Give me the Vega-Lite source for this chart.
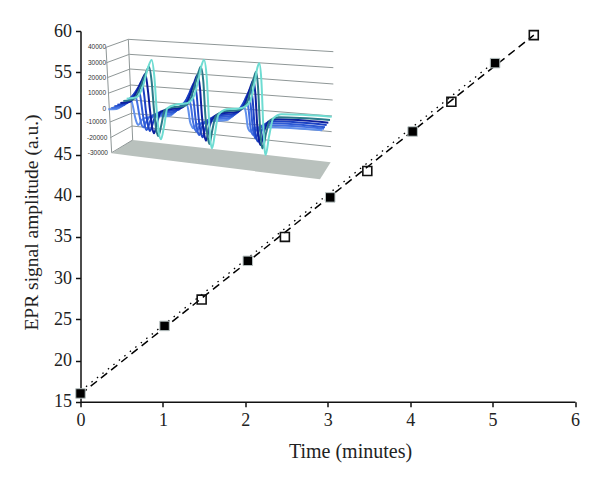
{"$schema":"https://vega.github.io/schema/vega-lite/v6.json","width":494.5,"height":370.7,"autosize":{"type":"none"},"padding":{"left":80.5,"top":31,"right":25,"bottom":80.3},"background":"white","config":{"view":{"stroke":null}},"resolve":{"scale":{"x":"independent","y":"independent"}},
"datasets":{
"points":[{"t":0,"a":16,"k":"filled"},{"t":1.02,"a":24.2,"k":"filled"},{"t":2.03,"a":32.1,"k":"filled"},{"t":3.03,"a":39.8,"k":"filled"},{"t":4.03,"a":47.8,"k":"filled"},{"t":5.03,"a":56.1,"k":"filled"},{"t":1.47,"a":27.4,"k":"open"},{"t":2.48,"a":35,"k":"open"},{"t":3.48,"a":43,"k":"open"},{"t":4.5,"a":51.4,"k":"open"},{"t":5.5,"a":59.5,"k":"open"}],
"fitDash":[{"t":0,"a":15.9},{"t":5.5,"a":59.5}],
"fitDot":[{"t":0,"a":16.3},{"t":5.03,"a":56.3}],
"grid":[{"g":1,"u":48,"v":82},{"g":1,"u":115,"v":58},{"g":1,"u":730,"v":95},{"g":2,"u":50,"v":128},{"g":2,"u":118,"v":103},{"g":2,"u":730,"v":143},{"g":3,"u":52,"v":173},{"g":3,"u":120,"v":147},{"g":3,"u":730,"v":192},{"g":4,"u":54,"v":220},{"g":4,"u":122,"v":195},{"g":4,"u":728,"v":240},{"g":5,"u":56,"v":267},{"g":5,"u":123,"v":240},{"g":5,"u":726,"v":288},{"g":6,"u":60,"v":306},{"g":6,"u":124,"v":280},{"g":6,"u":725,"v":335},{"g":7,"u":61,"v":353},{"g":7,"u":126,"v":318},{"g":7,"u":723,"v":380},{"g":8,"u":65,"v":398},{"g":8,"u":128,"v":360},{"g":9,"u":48,"v":82},{"g":9,"u":65,"v":398},{"g":10,"u":115,"v":58},{"g":10,"u":128,"v":360}],
"floor":[{"u":65,"v":400,"v2":400},{"u":128,"v":360,"v2":408},{"u":690,"v":423,"v2":478},{"u":722,"v":427,"v2":427}],
"labels":[{"u":48,"v":82,"l":"40000"},{"u":48,"v":128,"l":"30000"},{"u":48,"v":173,"l":"20000"},{"u":48,"v":220,"l":"10000"},{"u":48,"v":267,"l":"0"},{"u":50,"v":306,"l":"-10000"},{"u":52,"v":353,"l":"-20000"},{"u":54,"v":398,"l":"-30000"}],
"curves":[
{"s":"g","u":55,"v":268},{"s":"g","u":80,"v":267},{"s":"g","u":100,"v":252},{"s":"g","u":116,"v":243},{"s":"g","u":122,"v":238},{"s":"g","u":129,"v":260},{"s":"g","u":135,"v":290},{"s":"g","u":141,"v":310},{"s":"g","u":145,"v":315},{"s":"g","u":155,"v":300},{"s":"g","u":168,"v":293},{"s":"g","u":195,"v":290},{"s":"g","u":238,"v":288},{"s":"g","u":260,"v":270},{"s":"g","u":276,"v":258},{"s":"g","u":284,"v":253},{"s":"g","u":288,"v":250},{"s":"g","u":295,"v":270},{"s":"g","u":300,"v":305},{"s":"g","u":306,"v":320},{"s":"g","u":310,"v":325},{"s":"g","u":320,"v":313},{"s":"g","u":332,"v":310},{"s":"g","u":362,"v":304},{"s":"g","u":410,"v":300},{"s":"g","u":438,"v":278},{"s":"g","u":452,"v":268},{"s":"g","u":459,"v":264},{"s":"g","u":463,"v":262},{"s":"g","u":468,"v":280},{"s":"g","u":473,"v":320},{"s":"g","u":478,"v":332},{"s":"g","u":482,"v":335},{"s":"g","u":492,"v":324},{"s":"g","u":505,"v":322},{"s":"g","u":530,"v":322},{"s":"g","u":697,"v":331},
{"s":"f","u":64,"v":264},{"s":"f","u":90,"v":262},{"s":"f","u":110,"v":245},{"s":"f","u":127,"v":233},{"s":"f","u":135,"v":225},{"s":"f","u":142,"v":250},{"s":"f","u":148,"v":285},{"s":"f","u":155,"v":315},{"s":"f","u":160,"v":322},{"s":"f","u":170,"v":303},{"s":"f","u":180,"v":290},{"s":"f","u":205,"v":286},{"s":"f","u":245,"v":282},{"s":"f","u":268,"v":262},{"s":"f","u":284,"v":248},{"s":"f","u":292,"v":240},{"s":"f","u":296,"v":235},{"s":"f","u":303,"v":260},{"s":"f","u":309,"v":305},{"s":"f","u":315,"v":328},{"s":"f","u":320,"v":335},{"s":"f","u":329,"v":316},{"s":"f","u":340,"v":308},{"s":"f","u":369,"v":298},{"s":"f","u":418,"v":294},{"s":"f","u":444,"v":272},{"s":"f","u":458,"v":255},{"s":"f","u":466,"v":248},{"s":"f","u":470,"v":245},{"s":"f","u":476,"v":270},{"s":"f","u":481,"v":320},{"s":"f","u":486,"v":340},{"s":"f","u":490,"v":345},{"s":"f","u":500,"v":328},{"s":"f","u":512,"v":320},{"s":"f","u":537,"v":316},{"s":"f","u":702,"v":326},
{"s":"e","u":73,"v":259},{"s":"e","u":100,"v":256},{"s":"e","u":120,"v":235},{"s":"e","u":137,"v":217},{"s":"e","u":145,"v":205},{"s":"e","u":152,"v":235},{"s":"e","u":158,"v":280},{"s":"e","u":165,"v":320},{"s":"e","u":170,"v":330},{"s":"e","u":180,"v":305},{"s":"e","u":190,"v":285},{"s":"e","u":215,"v":280},{"s":"e","u":253,"v":276},{"s":"e","u":275,"v":256},{"s":"e","u":290,"v":238},{"s":"e","u":298,"v":222},{"s":"e","u":303,"v":215},{"s":"e","u":311,"v":245},{"s":"e","u":317,"v":300},{"s":"e","u":323,"v":335},{"s":"e","u":328,"v":345},{"s":"e","u":337,"v":318},{"s":"e","u":348,"v":304},{"s":"e","u":377,"v":292},{"s":"e","u":425,"v":288},{"s":"e","u":450,"v":266},{"s":"e","u":464,"v":242},{"s":"e","u":472,"v":230},{"s":"e","u":476,"v":225},{"s":"e","u":482,"v":255},{"s":"e","u":488,"v":320},{"s":"e","u":493,"v":348},{"s":"e","u":497,"v":355},{"s":"e","u":507,"v":330},{"s":"e","u":520,"v":315},{"s":"e","u":545,"v":310},{"s":"e","u":705,"v":322},
{"s":"d","u":82,"v":254},{"s":"d","u":110,"v":250},{"s":"d","u":130,"v":225},{"s":"d","u":146,"v":200},{"s":"d","u":155,"v":185},{"s":"d","u":162,"v":220},{"s":"d","u":168,"v":275},{"s":"d","u":175,"v":320},{"s":"d","u":180,"v":333},{"s":"d","u":190,"v":305},{"s":"d","u":200,"v":280},{"s":"d","u":225,"v":274},{"s":"d","u":262,"v":270},{"s":"d","u":283,"v":250},{"s":"d","u":298,"v":220},{"s":"d","u":307,"v":198},{"s":"d","u":312,"v":190},{"s":"d","u":320,"v":225},{"s":"d","u":326,"v":295},{"s":"d","u":333,"v":340},{"s":"d","u":338,"v":352},{"s":"d","u":347,"v":320},{"s":"d","u":358,"v":300},{"s":"d","u":385,"v":286},{"s":"d","u":432,"v":282},{"s":"d","u":456,"v":260},{"s":"d","u":470,"v":228},{"s":"d","u":478,"v":212},{"s":"d","u":482,"v":205},{"s":"d","u":488,"v":240},{"s":"d","u":494,"v":320},{"s":"d","u":500,"v":358},{"s":"d","u":505,"v":365},{"s":"d","u":515,"v":332},{"s":"d","u":528,"v":310},{"s":"d","u":553,"v":304},{"s":"d","u":710,"v":315},
{"s":"c","u":91,"v":249},{"s":"c","u":120,"v":245},{"s":"c","u":140,"v":215},{"s":"c","u":156,"v":180},{"s":"c","u":166,"v":162},{"s":"c","u":173,"v":205},{"s":"c","u":180,"v":270},{"s":"c","u":187,"v":325},{"s":"c","u":192,"v":340},{"s":"c","u":201,"v":310},{"s":"c","u":212,"v":275},{"s":"c","u":235,"v":268},{"s":"c","u":272,"v":264},{"s":"c","u":292,"v":245},{"s":"c","u":307,"v":205},{"s":"c","u":317,"v":175},{"s":"c","u":322,"v":165},{"s":"c","u":330,"v":205},{"s":"c","u":336,"v":290},{"s":"c","u":343,"v":345},{"s":"c","u":348,"v":362},{"s":"c","u":357,"v":325},{"s":"c","u":368,"v":295},{"s":"c","u":393,"v":280},{"s":"c","u":440,"v":276},{"s":"c","u":463,"v":255},{"s":"c","u":478,"v":210},{"s":"c","u":486,"v":188},{"s":"c","u":490,"v":180},{"s":"c","u":496,"v":220},{"s":"c","u":502,"v":320},{"s":"c","u":508,"v":365},{"s":"c","u":512,"v":375},{"s":"c","u":522,"v":335},{"s":"c","u":535,"v":305},{"s":"c","u":560,"v":298},{"s":"c","u":715,"v":308},
{"s":"b","u":100,"v":243},{"s":"b","u":130,"v":238},{"s":"b","u":150,"v":205},{"s":"b","u":167,"v":160},{"s":"b","u":177,"v":140},{"s":"b","u":185,"v":185},{"s":"b","u":192,"v":270},{"s":"b","u":199,"v":330},{"s":"b","u":205,"v":348},{"s":"b","u":214,"v":315},{"s":"b","u":224,"v":270},{"s":"b","u":247,"v":262},{"s":"b","u":282,"v":258},{"s":"b","u":300,"v":240},{"s":"b","u":316,"v":190},{"s":"b","u":326,"v":155},{"s":"b","u":332,"v":140},{"s":"b","u":340,"v":185},{"s":"b","u":346,"v":285},{"s":"b","u":353,"v":350},{"s":"b","u":358,"v":372},{"s":"b","u":367,"v":330},{"s":"b","u":377,"v":290},{"s":"b","u":402,"v":274},{"s":"b","u":447,"v":270},{"s":"b","u":470,"v":250},{"s":"b","u":486,"v":195},{"s":"b","u":494,"v":165},{"s":"b","u":498,"v":155},{"s":"b","u":504,"v":200},{"s":"b","u":510,"v":320},{"s":"b","u":515,"v":375},{"s":"b","u":518,"v":385},{"s":"b","u":528,"v":340},{"s":"b","u":541,"v":300},{"s":"b","u":566,"v":292},{"s":"b","u":720,"v":300},
{"s":"a","u":110,"v":236},{"s":"a","u":140,"v":232},{"s":"a","u":160,"v":195},{"s":"a","u":175,"v":140},{"s":"a","u":185,"v":120},{"s":"a","u":193,"v":170},{"s":"a","u":200,"v":270},{"s":"a","u":206,"v":335},{"s":"a","u":213,"v":358},{"s":"a","u":222,"v":320},{"s":"a","u":232,"v":265},{"s":"a","u":255,"v":254},{"s":"a","u":290,"v":250},{"s":"a","u":310,"v":232},{"s":"a","u":325,"v":180},{"s":"a","u":335,"v":135},{"s":"a","u":342,"v":120},{"s":"a","u":350,"v":170},{"s":"a","u":356,"v":280},{"s":"a","u":361,"v":360},{"s":"a","u":366,"v":385},{"s":"a","u":375,"v":340},{"s":"a","u":385,"v":285},{"s":"a","u":410,"v":268},{"s":"a","u":455,"v":264},{"s":"a","u":480,"v":245},{"s":"a","u":495,"v":180},{"s":"a","u":503,"v":140},{"s":"a","u":508,"v":130},{"s":"a","u":514,"v":180},{"s":"a","u":520,"v":320},{"s":"a","u":524,"v":390},{"s":"a","u":527,"v":405},{"s":"a","u":537,"v":350},{"s":"a","u":550,"v":295},{"s":"a","u":575,"v":283},{"s":"a","u":725,"v":290}
]},
"layer":[
{"data":{"name":"fitDash"},"mark":{"type":"line","color":"black","strokeWidth":1.5,"strokeDash":[8,5]},"encoding":{"x":{"field":"t","type":"quantitative","scale":{"domain":[0,6],"nice":false},"axis":{"values":[0,1,2,3,4,5,6],"title":"Time (minutes)","titleFont":"Liberation Serif","titleFontSize":20,"titleFontWeight":"normal","titleColor":"#222","titleX":269.5,"titleY":55.5,"titleAlign":"center","titleBaseline":"alphabetic","labelFont":"Liberation Serif","labelFontSize":18,"labelColor":"#222","labelPadding":5,"labelAngle":0,"labelFlush":false,"grid":false,"domainColor":"#111","domainWidth":1.5,"tickColor":"#111","tickWidth":1.5,"tickSize":5}},"y":{"field":"a","type":"quantitative","scale":{"domain":[15,60],"nice":false,"zero":false},"axis":{"values":[15,20,25,30,35,40,45,50,55,60],"title":"EPR signal amplitude (a.u.)","titleFont":"Liberation Serif","titleFontSize":19.5,"titleFontWeight":"normal","titleColor":"#222","titleX":-43.5,"titleY":191,"titleAlign":"center","titleBaseline":"alphabetic","labelFont":"Liberation Serif","labelFontSize":18,"labelColor":"#222","labelPadding":4,"labelFlush":false,"grid":false,"domainColor":"#111","domainWidth":1.5,"tickColor":"#111","tickWidth":1.5,"tickSize":5}}}},
{"data":{"name":"fitDot"},"mark":{"type":"line","color":"black","strokeWidth":1.3,"strokeDash":[1.5,5.5]},"encoding":{"x":{"field":"t","type":"quantitative","scale":{"domain":[0,6],"nice":false},"axis":null},"y":{"field":"a","type":"quantitative","scale":{"domain":[15,60],"nice":false,"zero":false},"axis":null}}},
{"data":{"name":"points"},"transform":[{"filter":"datum.k==='filled'"}],"mark":{"type":"square","size":90,"filled":true,"opacity":1,"color":"black","stroke":"#b9c4c4","strokeWidth":1},"encoding":{"x":{"field":"t","type":"quantitative","scale":{"domain":[0,6],"nice":false},"axis":null},"y":{"field":"a","type":"quantitative","scale":{"domain":[15,60],"nice":false,"zero":false},"axis":null}}},
{"data":{"name":"points"},"transform":[{"filter":"datum.k==='open'"}],"mark":{"type":"square","size":80,"filled":false,"opacity":1,"color":"#111","strokeWidth":1.6},"encoding":{"x":{"field":"t","type":"quantitative","scale":{"domain":[0,6],"nice":false},"axis":null},"y":{"field":"a","type":"quantitative","scale":{"domain":[15,60],"nice":false,"zero":false},"axis":null}}},
{"data":{"name":"floor"},"mark":{"type":"area","color":"#b9c1bd","opacity":1,"interpolate":"linear"},"encoding":{"x":{"field":"u","type":"quantitative","scale":{"domain":[-28.5,1455],"nice":false,"zero":false},"axis":null},"y":{"field":"v","type":"quantitative","scale":{"domain":[1145,33],"nice":false,"zero":false},"axis":null},"y2":{"field":"v2"}}},
{"data":{"name":"grid"},"mark":{"type":"line","color":"#8f9797","strokeWidth":1},"encoding":{"detail":{"field":"g"},"order":{"field":"u"},"x":{"field":"u","type":"quantitative","scale":{"domain":[-28.5,1455],"nice":false,"zero":false},"axis":null},"y":{"field":"v","type":"quantitative","scale":{"domain":[1145,33],"nice":false,"zero":false},"axis":null}}},
{"data":{"name":"curves"},"mark":{"type":"line","strokeWidth":2,"interpolate":"monotone"},"encoding":{"color":{"field":"s","type":"nominal","legend":null,"scale":{"domain":["a","b","c","d","e","f","g"],"range":["#6edcd2","#2a7a8a","#0c1f9e","#1c42c4","#2e5ad4","#4270e2","#6190ec"]}},"x":{"field":"u","type":"quantitative","scale":{"domain":[-28.5,1455],"nice":false,"zero":false},"axis":null},"y":{"field":"v","type":"quantitative","scale":{"domain":[1145,33],"nice":false,"zero":false},"axis":null}}},
{"data":{"name":"labels"},"mark":{"type":"text","align":"right","baseline":"middle","font":"Liberation Sans","fontSize":6.5,"color":"#333"},"encoding":{"text":{"field":"l"},"x":{"field":"u","type":"quantitative","scale":{"domain":[-28.5,1455],"nice":false,"zero":false},"axis":null},"y":{"field":"v","type":"quantitative","scale":{"domain":[1145,33],"nice":false,"zero":false},"axis":null}}}
]}
